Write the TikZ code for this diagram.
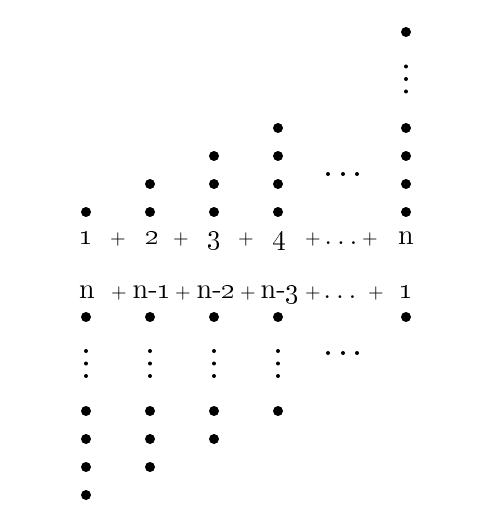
\documentclass[tikz,border=0pt]{standalone}
\usepackage{tikz}

\begin{document}
\begin{tikzpicture}[x=0.5pt,y=-0.5pt,bead/.style={circle,fill,inner sep=0pt,minimum size=5pt},pip/.style={circle,fill,inner sep=0pt,minimum size=2pt},term/.style={anchor=base,inner sep=0pt,font=\Large},plus/.style={anchor=base,inner sep=0pt,font=\normalsize}]
\useasboundingbox (0,0) rectangle (500,528);
% upper staircase 1+2+...+n
\node[bead] (a11) at (86,212) {};
\node[bead] (a21) at (150,212) {};
\node[bead] (a22) at (150,184) {};
\node[bead] (a31) at (214,212) {};
\node[bead] (a32) at (214,184) {};
\node[bead] (a33) at (214,156) {};
\node[bead] (a41) at (278,212) {};
\node[bead] (a42) at (278,184) {};
\node[bead] (a43) at (278,156) {};
\node[bead] (a44) at (278,128) {};
\node[bead] (an1) at (406,212) {};
\node[bead] (an2) at (406,184) {};
\node[bead] (an3) at (406,156) {};
\node[bead] (an4) at (406,128) {};
\node[pip] (av1) at (406,91.5) {};
\node[pip] (av2) at (406,79) {};
\node[pip] (av3) at (406,66.5) {};
\node[bead] (ann) at (406,32) {};
\node[pip] (ah1) at (328,174) {};
\node[pip] (ah2) at (343,174) {};
\node[pip] (ah3) at (357,174) {};
% first sum
\node[term] (s1) at (86,245) {\oldstylenums{1}};
\node[plus] (p1) at (118,245) {+};
\node[term] (s2) at (152,245) {\oldstylenums{2}};
\node[plus] (p2) at (181,245) {+};
\node[term] (s3) at (214,245) {\oldstylenums{3}};
\node[plus] (p3) at (246,245) {+};
\node[term] (s4) at (279,245) {\oldstylenums{4}};
\node[plus] (p4) at (313,245) {+};
\node[term] (sd) at (341,245) {$\ldots$};
\node[plus] (p5) at (370,245) {+};
\node[term] (sn) at (406,245) {n};
% second sum
\node[term] (r1) at (87,299) {n};
\node[plus] (q1) at (119,299) {+};
\node[term] (r2) at (152,299) {n-\oldstylenums{1}};
\node[plus] (q2) at (183,299) {+};
\node[term] (r3) at (216,299) {n-\oldstylenums{2}};
\node[plus] (q3) at (248,299) {+};
\node[term] (r4) at (280,299) {n-\oldstylenums{3}};
\node[plus] (q4) at (313,299) {+};
\node[term] (rd) at (340,299) {$\ldots$};
\node[plus] (q5) at (376,299) {+};
\node[term] (rn) at (406,299) {\oldstylenums{1}};
% lower staircase n+(n-1)+...+1
\node[bead] (b11) at (86,317) {};
\node[pip] (b1v1) at (86,351) {};
\node[pip] (b1v2) at (86,363.5) {};
\node[pip] (b1v3) at (86,376) {};
\node[bead] (b12) at (86,411) {};
\node[bead] (b13) at (86,439) {};
\node[bead] (b14) at (86,467) {};
\node[bead] (b15) at (86,495) {};
\node[bead] (b21) at (150,317) {};
\node[pip] (b2v1) at (150,351) {};
\node[pip] (b2v2) at (150,363.5) {};
\node[pip] (b2v3) at (150,376) {};
\node[bead] (b22) at (150,411) {};
\node[bead] (b23) at (150,439) {};
\node[bead] (b24) at (150,467) {};
\node[bead] (b31) at (214,317) {};
\node[pip] (b3v1) at (214,351) {};
\node[pip] (b3v2) at (214,363.5) {};
\node[pip] (b3v3) at (214,376) {};
\node[bead] (b32) at (214,411) {};
\node[bead] (b33) at (214,439) {};
\node[bead] (b41) at (278,317) {};
\node[pip] (b4v1) at (278,351) {};
\node[pip] (b4v2) at (278,363.5) {};
\node[pip] (b4v3) at (278,376) {};
\node[bead] (b42) at (278,411) {};
\node[bead] (bn1) at (406,317) {};
\node[pip] (bh1) at (328,353) {};
\node[pip] (bh2) at (343,353) {};
\node[pip] (bh3) at (357,353) {};
\end{tikzpicture}
\end{document}
